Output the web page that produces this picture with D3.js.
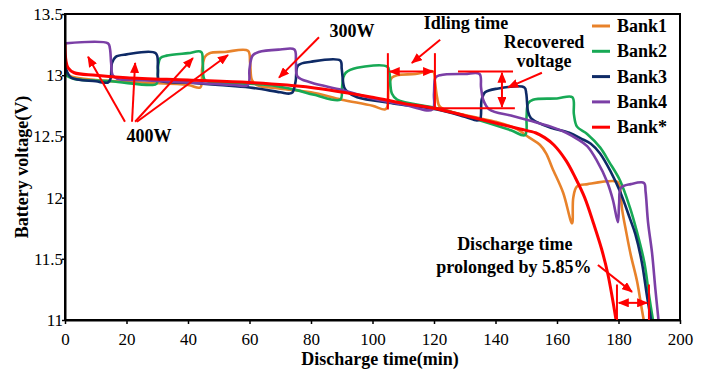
<!DOCTYPE html>
<html>
<head>
<meta charset="utf-8">
<script src="https://cdn.jsdelivr.net/npm/d3@7"></script>
<style>
  body { margin: 0; background: #fff; }
  svg { display: block; font-family: "Liberation Serif", "Times New Roman", serif; }
</style>
</head>
<body>
<svg id="chart" width="707" height="369"></svg>
<script>
// discharge curves, [minutes, volts]
const bank1 = [[0,13.1],[0.5,13.02],[2,12.99],[10,12.96],[25,12.94],[40,12.92],[44,12.9],[44.6,13.05],[45.5,13.15],[47,13.18],[52,13.19],[59.5,13.2],[60.2,13.1],[60.8,12.96],[62.4,12.92],[70,12.89],[80,12.86],[90,12.8],[100,12.75],[104,12.72],[104.8,12.74],[105.3,12.92],[106.3,12.98],[108,13.0],[114,13.01],[119.7,13.03],[120.3,12.95],[121,12.82],[122,12.74],[132.7,12.66],[140,12.62],[147,12.56],[151,12.49],[154.5,12.43],[156.5,12.36],[158.5,12.24],[162,12.04],[164.9,11.79],[165.3,12.0],[166.5,12.09],[170,12.11],[179.5,12.13],[180.3,12.1],[181.2,11.9],[182.5,11.72],[184,11.53],[186,11.32],[187.5,11.1],[188.2,11.0]];

const bank2 = [[0,13.06],[0.5,13.0],[3,12.97],[15,12.95],[28,12.92],[29.8,12.93],[30.3,13.08],[31,13.14],[33,13.16],[40,13.18],[44.3,13.19],[44.8,13.1],[45.5,12.96],[50,12.94],[60,12.93],[66,12.92],[75,12.88],[81,12.84],[89.5,12.8],[90.1,12.9],[90.5,12.98],[91.3,13.02],[95,13.06],[104.8,13.07],[105.5,13.02],[106.3,12.85],[108,12.8],[121,12.73],[135,12.63],[145,12.55],[149.6,12.51],[150.1,12.66],[150.6,12.77],[152.2,12.8],[160,12.81],[165,12.82],[165.5,12.68],[166.5,12.58],[169.8,12.52],[174,12.41],[177,12.29],[180.5,12.14],[183.7,11.92],[186,11.72],[188.4,11.47],[190,11.19],[191.2,11.0]];

const bank3 = [[0,13.1],[0.5,13.04],[2,12.98],[10,12.95],[14,12.94],[14.8,12.97],[15.3,13.1],[16.5,13.15],[20,13.17],[29.5,13.18],[30.2,13.05],[30.6,12.96],[40,12.94],[50,12.92],[60,12.9],[70,12.86],[73,12.85],[74,12.86],[75,12.95],[75.8,13.08],[80,13.11],[89.5,13.12],[90,13.05],[90.8,12.9],[92,12.86],[95,12.82],[106.7,12.77],[121,12.72],[130,12.66],[134,12.63],[135,12.64],[135.5,12.8],[136.6,12.86],[140.5,12.89],[149.4,12.9],[150,12.85],[150.6,12.7],[151.5,12.65],[154,12.61],[158,12.57],[164,12.53],[168,12.48],[171,12.44],[174,12.36],[177.5,12.21],[180.5,12.05],[183.7,11.83],[185.5,11.7],[187.6,11.47],[189.3,11.19],[190.6,11.0]];

const bank4 = [[0,13.26],[14,13.26],[14.6,13.22],[15,13.1],[15.5,13.0],[17,12.97],[25,12.96],[40,12.94],[55,12.92],[59.5,12.92],[60,13.05],[61,13.16],[63,13.19],[70,13.21],[74.6,13.21],[75.1,13.1],[75.6,12.99],[80,12.94],[90,12.88],[100,12.81],[110,12.76],[119.5,12.72],[120,12.85],[120.5,12.98],[122,13.0],[130,13.01],[134.8,13.01],[135.3,12.9],[136,12.8],[138,12.72],[145,12.67],[151,12.63],[158,12.58],[163,12.53],[166.5,12.48],[169.8,12.42],[173,12.3],[176.3,12.13],[178.2,11.98],[179.8,11.8],[180.2,11.95],[180.8,12.08],[184,12.11],[188.3,12.12],[188.8,12.05],[189.6,11.8],[190.9,11.55],[192,11.25],[193,11.0]];

const bankStar = [[0,13.25],[0.3,13.12],[1,13.06],[3,13.02],[10,13.0],[20,12.98],[40,12.96],[60,12.94],[80,12.9],[100,12.82],[110,12.77],[120,12.73],[130,12.67],[140,12.61],[148,12.56],[153,12.53],[156,12.49],[159,12.43],[163,12.3],[166,12.16],[169,12.0],[172,11.78],[174.5,11.58],[176.5,11.38],[178,11.18],[179.2,11.0]];

const seriesNames = ['Bank1', 'Bank2', 'Bank3', 'Bank4', 'Bank*'];
const seriesColors = ['#E8822A', '#17A955', '#0E2A66', '#7B3FA6', '#FF0000'];
const seriesData = [bank1, bank2, bank3, bank4, bankStar];

const xTicks = [0, 20, 40, 60, 80, 100, 120, 140, 160, 180, 200];
const yTicks = [11, 11.5, 12, 12.5, 13, 13.5];

const W = 707, H = 369;
const margin = { top: 14, right: 27, bottom: 49, left: 65 };
const SERIF = '"Liberation Serif", "Times New Roman", serif';

const svg = d3.select('#chart');
svg.append('rect').attr('width', W).attr('height', H).attr('fill', '#fff');

const x = d3.scaleLinear().domain([0, 200]).range([margin.left, W - margin.right]);
const y = d3.scaleLinear().domain([11, 13.5]).range([H - margin.bottom, margin.top]);

// arrow heads
const defs = svg.append('defs');
defs.append('marker')
  .attr('id', 'arr')
  .attr('markerUnits', 'userSpaceOnUse')
  .attr('viewBox', '0 0 11 9')
  .attr('refX', 10).attr('refY', 4.5)
  .attr('markerWidth', 11).attr('markerHeight', 9)
  .attr('orient', 'auto-start-reverse')
  .append('path').attr('d', 'M0,0 L11,4.5 L0,9 Z').attr('fill', '#FF0000');

defs.append('clipPath').attr('id', 'plot-clip')
  .append('rect')
  .attr('x', margin.left).attr('y', margin.top)
  .attr('width', W - margin.left - margin.right)
  .attr('height', H - margin.top - margin.bottom);

// series
const line = d3.line()
  .x(d => x(d[0]))
  .y(d => y(d[1]))
  .curve(d3.curveCatmullRom.alpha(0.5));

const lines = svg.append('g').attr('clip-path', 'url(#plot-clip)');
seriesData.forEach((data, i) => {
  lines.append('path')
    .datum(data)
    .attr('d', line)
    .attr('fill', 'none')
    .attr('stroke', seriesColors[i])
    .attr('stroke-width', i === 4 ? 3 : 2.6)
    .attr('stroke-linejoin', 'round')
    .attr('stroke-linecap', 'round');
});

// frame
svg.append('rect')
  .attr('x', margin.left).attr('y', margin.top)
  .attr('width', W - margin.left - margin.right)
  .attr('height', H - margin.top - margin.bottom)
  .attr('fill', 'none').attr('stroke', '#000').attr('stroke-width', 2);

// axes
const xAxis = svg.append('g')
  .attr('transform', `translate(0,${H - margin.bottom})`)
  .call(d3.axisBottom(x).tickValues(xTicks).tickSize(4).tickPadding(9).tickSizeOuter(0).tickFormat(d3.format('d')));
const yAxis = svg.append('g')
  .attr('transform', `translate(${margin.left},0)`)
  .call(d3.axisLeft(y).tickValues(yTicks).tickSize(3).tickPadding(-1).tickSizeOuter(0).tickFormat(d => String(d)));

[xAxis, yAxis].forEach(a => {
  a.attr('font-family', SERIF).attr('font-size', 17);
  a.select('.domain').attr('stroke', '#000').attr('stroke-width', 2);
  a.selectAll('.tick line').attr('stroke', '#000').attr('stroke-width', 1.5);
  a.selectAll('.tick text')
    .attr('fill', '#000')
    .style('font-family', SERIF)
    .style('font-size', '17px');
});

// axis titles
svg.append('text')
  .attr('x', 380).attr('y', 365)
  .attr('text-anchor', 'middle')
  .style('font-size', '18px').style('font-weight', 'bold')
  .text('Discharge time(min)');
svg.append('text')
  .attr('transform', `translate(28,${(margin.top + H - margin.bottom) / 2}) rotate(-90)`)
  .attr('text-anchor', 'middle')
  .style('font-size', '18px').style('font-weight', 'bold')
  .text('Battery voltage(V)');

// legend
const legend = svg.append('g');
seriesNames.forEach((name, i) => {
  const ly = 26 + i * 25.3;
  legend.append('line')
    .attr('x1', 592).attr('x2', 610).attr('y1', ly).attr('y2', ly)
    .attr('stroke', seriesColors[i]).attr('stroke-width', 3);
  legend.append('text')
    .attr('x', 617).attr('y', ly + 6)
    .style('font-size', '18px').style('font-weight', 'bold')
    .text(name);
});

// annotations (data units)
const ann = svg.append('g');
function arrow(t1, v1, t2, v2, both) {
  const l = ann.append('line')
    .attr('x1', x(t1)).attr('y1', y(v1))
    .attr('x2', x(t2)).attr('y2', y(v2))
    .attr('stroke', '#FF0000').attr('stroke-width', 2)
    .attr('marker-end', 'url(#arr)');
  if (both) l.attr('marker-start', 'url(#arr)');
}
function rule(t1, v1, t2, v2) {
  ann.append('line')
    .attr('x1', x(t1)).attr('y1', y(v1))
    .attr('x2', x(t2)).attr('y2', y(v2))
    .attr('stroke', '#FF0000').attr('stroke-width', 2);
}
function label(t, v, txt) {
  ann.append('text')
    .attr('x', x(t)).attr('y', y(v))
    .attr('text-anchor', 'middle')
    .style('font-size', '18px').style('font-weight', 'bold')
    .text(txt);
}

// 400W
arrow(19.5, 12.62, 7.5, 13.15);
arrow(21.8, 12.62, 22.8, 13.1);
arrow(22.8, 12.62, 41.6, 13.14);
arrow(23.4, 12.62, 53, 13.165);
label(27.3, 12.455, '400W');

// 300W
arrow(82.6, 13.31, 69.6, 12.98);
label(93.3, 13.31, '300W');

// idling time
rule(105.0, 13.18, 105.0, 12.72);
rule(120.3, 13.18, 120.3, 12.72);
arrow(105.6, 13.03, 119.7, 13.03, true);
arrow(122, 13.29, 112.8, 13.1);
label(130.4, 13.38, 'Idling time');

// recovered voltage
rule(127.8, 13.03, 145.7, 13.03);
rule(121, 12.73, 146.3, 12.73);
arrow(142.1, 13.02, 142.1, 12.74, true);
arrow(155.1, 13.02, 144.1, 12.9);
label(155.8, 13.22, 'Recovered');
label(155.8, 13.065, 'voltage');

// discharge time prolonged
rule(179.5, 11.29, 179.5, 11.0);
rule(189.9, 11.29, 189.9, 11.0);
arrow(180.1, 11.14, 189.3, 11.14, true);
arrow(173.3, 11.45, 184.4, 11.23);
label(146.3, 11.57, 'Discharge time');
label(146, 11.384, 'prolonged by 5.85%');
</script>
</body>
</html>
